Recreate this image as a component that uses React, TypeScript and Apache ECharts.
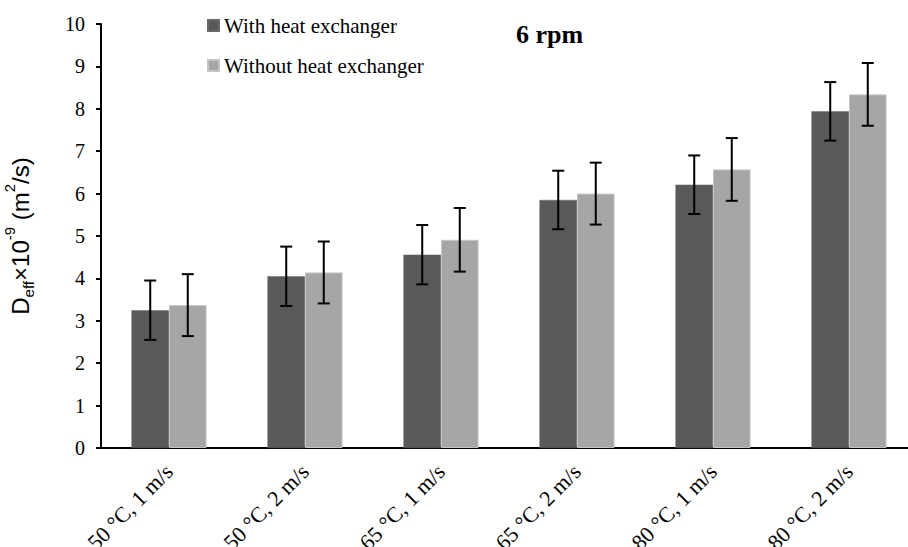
import React, { useEffect, useRef } from "react";
import * as echarts from "echarts";

const categories = ["50 °C, 1 m/s", "50 °C, 2 m/s", "65 °C, 1 m/s", "65 °C, 2 m/s", "80 °C, 1 m/s", "80 °C, 2 m/s"];
const withHX = [3.25, 4.05, 4.56, 5.85, 6.21, 7.94];
const withHXErr = [0.7, 0.7, 0.7, 0.69, 0.69, 0.69];
const withoutHX = [3.37, 4.14, 4.91, 6.0, 6.57, 8.34];
const withoutHXErr = [0.73, 0.73, 0.75, 0.73, 0.74, 0.74];
const seriesNames = ["With heat exchanger", "Without heat exchanger"];

const SERIF = "'Liberation Serif', 'Times New Roman', serif";
const SANS = "'Liberation Sans', Arial, sans-serif";
const BAR_FRAC = 0.276;

function errorSeries(values: number[], errs: number[], side: number) {
  return {
    type: "custom",
    silent: true,
    z: 10,
    data: values.map((v, i) => [i, v - errs[i], v + errs[i]]),
    renderItem: (params: any, api: any) => {
      const band = api.size([1, 0])[0];
      const cx = api.coord([api.value(0), 0])[0] + side * band * BAR_FRAC / 2;
      const yLow = api.coord([api.value(0), api.value(1)])[1];
      const yHigh = api.coord([api.value(0), api.value(2)])[1];
      const cap = 6;
      const style = { stroke: "#000", lineWidth: 2 };
      return {
        type: "group",
        children: [
          { type: "line", shape: { x1: cx, y1: yLow, x2: cx, y2: yHigh }, style },
          { type: "line", shape: { x1: cx - cap, y1: yHigh, x2: cx + cap, y2: yHigh }, style },
          { type: "line", shape: { x1: cx - cap, y1: yLow, x2: cx + cap, y2: yLow }, style },
        ],
      };
    },
  };
}

export default function App() {
  const ref = useRef<HTMLDivElement>(null);
  useEffect(() => {
    if (!ref.current) return;
    const chart = echarts.init(ref.current, null, { renderer: "svg" });
    chart.setOption({
      animation: false,
      backgroundColor: "#fff",
      title: {
        text: "6 rpm",
        left: 511,
        top: 16,
        textStyle: { fontFamily: SERIF, fontWeight: "bold", fontSize: 26, color: "#000" },
      },
      legend: {
        orient: "vertical",
        left: 202,
        top: 10,
        itemWidth: 11,
        itemHeight: 11,
        itemGap: 19,
        icon: "rect",
        data: seriesNames,
        textStyle: { fontFamily: SERIF, fontSize: 21, color: "#000" },
      },
      grid: { left: 101, top: 24, bottom: 99, width: 816, containLabel: false, outerBoundsMode: "none" },
      xAxis: {
        type: "category",
        data: categories,
        axisLine: { lineStyle: { color: "#000", width: 2 } },
        axisTick: { show: false },
        axisLabel: {
          rotate: 45,
          margin: 20,
          interval: 0,
          fontFamily: SERIF,
          fontSize: 22,
          color: "#000",
        },
      },
      yAxis: {
        type: "value",
        min: 0,
        max: 10,
        interval: 1,
        splitLine: { show: false },
        axisLine: { show: true, lineStyle: { color: "#000", width: 2 } },
        axisTick: { show: true, inside: false, length: 5, lineStyle: { color: "#000", width: 2 } },
        axisLabel: { margin: 16, fontFamily: SERIF, fontSize: 20, color: "#000" },
        name: "{n|D}{sub|eff}{n|×10}{sup|-9}{n| (m}{sup|2}{n|/s)}",
        nameLocation: "middle",
        nameGap: 69,
        nameRotate: 90,
        nameTextStyle: {
          rich: {
            n: { fontFamily: SANS, fontSize: 24, color: "#000", verticalAlign: "bottom", lineHeight: 30 },
            sub: { fontFamily: SANS, fontSize: 15, color: "#000", verticalAlign: "bottom", padding: [0, 0, -4, 0], lineHeight: 30 },
            sup: { fontFamily: SANS, fontSize: 15, color: "#000", verticalAlign: "top", padding: [0, 0, 0, 0], lineHeight: 30 },
          },
        },
      },
      series: [
        {
          name: seriesNames[0],
          type: "bar",
          data: withHX,
          barWidth: (BAR_FRAC * 100).toFixed(1) + "%",
          barGap: "0%",
          itemStyle: { color: "#595959", borderColor: "#6a6a6a", borderWidth: 0.5 },
        },
        {
          name: seriesNames[1],
          type: "bar",
          data: withoutHX,
          barWidth: (BAR_FRAC * 100).toFixed(1) + "%",
          barGap: "0%",
          itemStyle: { color: "#a6a6a6", borderColor: "#c4c4c4", borderWidth: 1 },
        },
        errorSeries(withHX, withHXErr, -1),
        errorSeries(withoutHX, withoutHXErr, 1),
      ],
    });
    return () => chart.dispose();
  }, []);
  return <div ref={ref} style={{ width: 908, height: 547, position: "absolute", left: 0, top: 0 }} />;
}
